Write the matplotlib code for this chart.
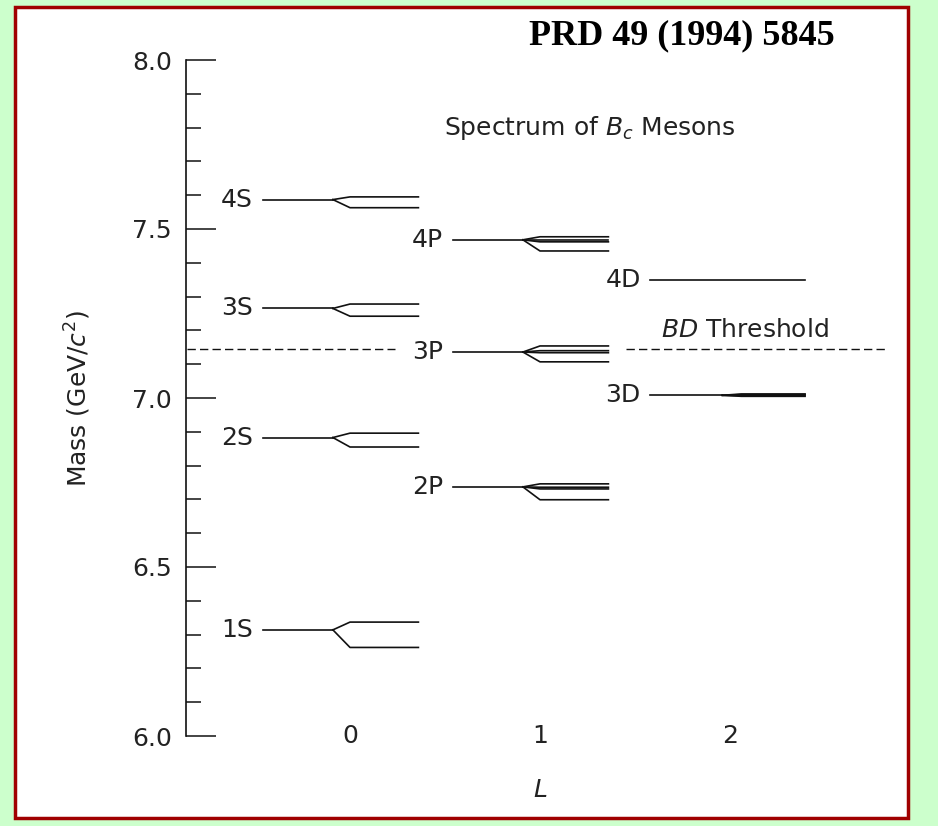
import matplotlib
matplotlib.use("Agg")
import matplotlib.pyplot as plt
from matplotlib.patches import Rectangle
from matplotlib.ticker import MultipleLocator

# ---- data (GeV/c^2) ----
names = ["1S", "2S", "3S", "4S", "2P", "3P", "4P", "3D", "4D"]
L_values = [0, 0, 0, 0, 1, 1, 1, 2, 2]
centroids = [6.314, 6.883, 7.265, 7.587, 6.737, 7.136, 7.468, 7.008, 7.349]
levels = [
    [6.337, 6.262],
    [6.896, 6.855],
    [7.278, 7.242],
    [7.595, 7.563],
    [6.746, 6.736, 6.731, 6.699],
    [7.154, 7.140, 7.134, 7.107],
    [7.477, 7.468, 7.462, 7.435],
    [7.012, 7.010, 7.007, 7.005],
    [7.349],
]
bd_threshold = 7.145
x_ticks = [0, 1, 2]
y_major = [6.0, 6.5, 7.0, 7.5, 8.0]

W, H = 938, 826
FS = 18
col = "#222222"
fig = plt.figure(figsize=(W / 100, H / 100), dpi=100)
fig.patch.set_facecolor("#ccffcc")

# white panel with dark red frame (background axes)
bg = fig.add_axes([0, 0, 1, 1], zorder=-5)
bg.set_xlim(0, W)
bg.set_ylim(H, 0)
bg.axis("off")
bg.add_patch(Rectangle((15, 7), 908 - 15, 818 - 7, facecolor="white",
                       edgecolor="#a00000", linewidth=2.5))

ax_left, ax_right = 186, 900
ax_top, ax_bot = 60, 736
ax = fig.add_axes([ax_left / W, 1 - ax_bot / H, (ax_right - ax_left) / W,
                   (ax_bot - ax_top) / H], zorder=2)
ax.patch.set_alpha(0)
x0_px, unit_px = 350, 190
ax.set_xlim((ax_left - x0_px) / unit_px, (ax_right - x0_px) / unit_px)
ax.set_ylim(6.0, 8.0)

for s in ["top", "right", "bottom"]:
    ax.spines[s].set_visible(False)
ax.spines["left"].set_linewidth(1.2)
ax.spines["left"].set_color("#111111")

ax.set_yticks(y_major)
ax.set_yticklabels([f"{v:.1f}" for v in y_major])
ax.yaxis.set_minor_locator(MultipleLocator(0.1))
ax.tick_params(axis="y", which="major", direction="in", length=21.5,
               width=1.1, pad=10, labelsize=FS, colors="#111111",
               labelcolor=col)
ax.tick_params(axis="y", which="minor", direction="in", length=11,
               width=1.1, colors="#111111")
ax.set_xticks([])

for L in x_ticks:
    ax.text(L, 6.0, str(L), ha="center", va="center", fontsize=FS,
            color=col)
ax.text(1.0, -0.08, "L", transform=ax.get_xaxis_transform(), ha="center",
        va="center", fontsize=FS, style="italic", color=col)

ax.text(-0.152, 0.5, r"Mass (GeV/$c^2$)", transform=ax.transAxes,
        rotation=90, ha="center", va="center", fontsize=FS, color=col)

lw = 1.2
for name, L, mc, lv in zip(names, L_values, centroids, levels):
    xs, xsplit, xreach, xend = L - 0.46, L - 0.09, L + 0.0, L + 0.36
    if L == 2:
        xs, xend = L - 0.42, L + 0.395
        xsplit, xreach = L - 0.04, L + 0.06
    if len(lv) == 1:
        ax.plot([xs, xend], [lv[0], lv[0]], color="#111111", lw=lw)
    else:
        ax.plot([xs, xsplit], [mc, mc], color="#111111", lw=lw)
        for m in lv:
            ax.plot([xsplit, xreach, xend], [mc, m, m], color="#111111",
                    lw=lw)
    ax.text(xs - 0.05, mc, name, ha="right", va="center", fontsize=FS,
            color=col)

# BD threshold
ax.plot([(187 - x0_px) / unit_px, (395 - x0_px) / unit_px],
        [bd_threshold] * 2, color="#111111", lw=1.0, ls=(0, (6, 3)))
ax.plot([(626 - x0_px) / unit_px, (886 - x0_px) / unit_px],
        [bd_threshold] * 2, color="#111111", lw=1.0, ls=(0, (6, 3)))
ax.text((745 - x0_px) / unit_px, bd_threshold + 0.055,
        r"$\it{BD}$ Threshold", ha="center", va="center", fontsize=FS,
        color=col)

ax.text((590 - x0_px) / unit_px, 7.8, r"Spectrum of $B_c$ Mesons",
        ha="center", va="center", fontsize=FS, color=col)

fig.text(682 / W, 1 - 36 / H, "PRD 49 (1994) 5845", ha="center",
         va="center", fontsize=26, fontweight="bold",
         family="Liberation Serif", color="black")

fig.savefig("out.png", dpi=100, facecolor=fig.get_facecolor())
